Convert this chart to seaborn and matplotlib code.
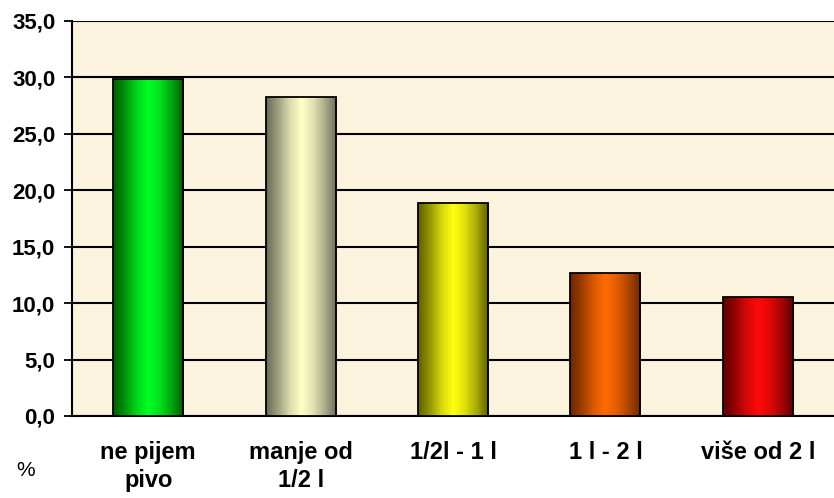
import numpy as np
import pandas as pd
import matplotlib
matplotlib.use("Agg")
import matplotlib.pyplot as plt
from matplotlib.colors import LinearSegmentedColormap
import seaborn as sns

# data
categories = ["ne pijem\npivo", "manje od\n1/2 l", "1/2l - 1 l", "1 l - 2 l", "više od 2 l"]
values = [29.9, 28.3, 18.9, 12.7, 10.5]
ytick_values = [0, 5, 10, 15, 20, 25, 30, 35]
ytick_labels = ["0,0", "5,0", "10,0", "15,0", "20,0", "25,0", "30,0", "35,0"]

# (dark edge, bright centre) for each bar gradient
bar_shades = [("#005a00", "#00ff22"), ("#6a6a58", "#ffffc8"), ("#5e5e00", "#ffff10"),
              ("#6a2600", "#ff6a00"), ("#5a0000", "#ff0a0a")]

sns.set_style("white")
plt.rcParams["font.family"] = ["Liberation Sans", "DejaVu Sans"]
plt.rcParams["text.color"] = "black"
plt.rcParams["xtick.color"] = "black"
plt.rcParams["ytick.color"] = "black"

df = pd.DataFrame({"kat": categories, "pct": values})

fig = plt.figure(figsize=(8.34, 4.98), dpi=100)
ax = fig.add_axes([0.0863, 0.1647, 0.9137, 0.7932])
ax.set_facecolor("#fbf3de")

sns.barplot(data=df, x="kat", y="pct", ax=ax, width=0.46, color="white",
            edgecolor="black", linewidth=1.3, zorder=3)

# horizontal gradient on each bar, clipped to the bar shape
ramp = np.array([0.0, 0.35, 0.75, 1.0, 0.8, 0.45, 0.0])
for patch, (dark, bright) in zip(ax.patches, bar_shades):
    cmap = LinearSegmentedColormap.from_list("g", [dark, bright])
    x0, y0 = patch.get_x(), patch.get_y()
    w, h = patch.get_width(), patch.get_height()
    grad = np.interp(np.linspace(0, 1, 200), np.linspace(0, 1, len(ramp)), ramp)
    im = ax.imshow(grad[None, :], cmap=cmap, vmin=0, vmax=1, aspect="auto",
                   extent=[x0, x0 + w, y0, y0 + h], zorder=3.5, interpolation="bilinear")
    im.set_clip_path(patch)
    patch.set_zorder(4)
    patch.set_facecolor("none")

ax.set_xlim(-0.5, 4.5)
ax.set_ylim(0, 35)
ax.set_yticks(ytick_values)
ax.set_yticklabels(ytick_labels, fontsize=16, fontweight="bold", color="black")
ax.yaxis.grid(True, color="black", linewidth=1.5, zorder=1)
ax.set_axisbelow(True)

# category labels centred, ticks between categories
ax.set_xticks([0.5, 1.5, 2.5, 3.5, 4.5])
ax.set_xticklabels([])
ax.set_xticks(range(len(categories)), minor=True)
ax.set_xticklabels(categories, minor=True, fontsize=17, fontweight="bold",
                   linespacing=1.3, color="black")
ax.tick_params(axis="x", which="major", direction="out", length=6, width=1.3, color="black")
ax.tick_params(axis="x", which="minor", length=0, pad=18)
ax.tick_params(axis="y", direction="out", length=6, width=1.3, color="black", pad=6, left=True)
for lab in ax.get_xticklabels(minor=True):
    lab.set_verticalalignment("top")

ax.set_xlabel("")
ax.set_ylabel("")
for side in ["top", "right"]:
    ax.spines[side].set_visible(False)
for side in ["left", "bottom"]:
    ax.spines[side].set_color("black")
    ax.spines[side].set_linewidth(1.5)

fig.text(0.02, 0.056, "%", fontsize=15, ha="left", va="center", color="black")

fig.savefig("out.png", dpi=100)
